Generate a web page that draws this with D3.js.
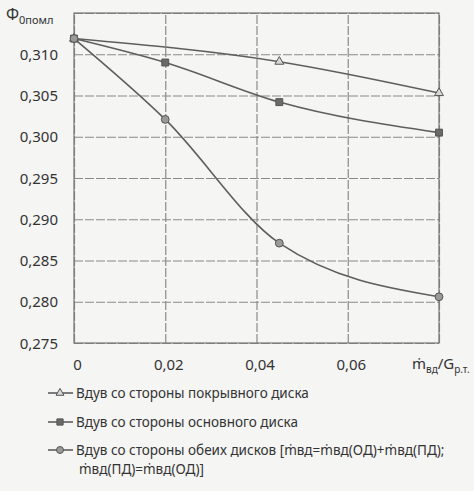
<!DOCTYPE html>
<html>
<head>
<meta charset="utf-8">
<script src="https://cdn.jsdelivr.net/npm/d3@7/dist/d3.min.js"></script>
<style>
  html, body { margin: 0; padding: 0; background: #f5f5f4; }
  svg { display: block; }
  text { font-family: "Noto Sans", "Open Sans", sans-serif; fill: #333; }
</style>
</head>
<body>
<svg id="chart" width="474" height="491"></svg>
<script>
// Relative blow-off mass flow (x) and the resulting flow coefficient (y)
const xTicks = [0, 0.02, 0.04, 0.06];
const yTicks = [0.275, 0.280, 0.285, 0.290, 0.295, 0.300, 0.305, 0.310];

const xShroud = [0, 0.045, 0.08];
const yShroud = [0.3119, 0.3091, 0.3053];

const xHub = [0, 0.02, 0.045, 0.08];
const yHub = [0.3119, 0.3090, 0.3042, 0.3005];

const xBoth = [0, 0.02, 0.045, 0.08];
const yBoth = [0.3119, 0.3021, 0.2871, 0.2806];

const legendLabels = [
  "Вдув со стороны покрывного диска",
  "Вдув со стороны основного диска",
  "Вдув со стороны обеих дисков [ṁвд=ṁвд(ОД)+ṁвд(ПД);"
];
const legendCont = "ṁвд(ПД)=ṁвд(ОД)]";

const svg = d3.select("#chart");
const plotL = 74, plotR = 439, plotT = 13, plotB = 343;

const x = d3.scaleLinear().domain([0, 0.08]).range([plotL, plotR]);
const y = d3.scaleLinear().domain([0.275, 0.315]).range([plotB, plotT]);
const fmt = v => d3.format(v === 0 ? "d" : ".2f")(v).replace(".", ",");
const fmtY = v => d3.format(".3f")(v).replace(".", ",");

const gridColor = "#8a8a8a";

// horizontal grid lines + y tick labels
svg.append("g")
  .attr("transform", `translate(${plotL},0)`)
  .call(d3.axisLeft(y).tickValues(yTicks.concat([0.315])).tickSize(-(plotR - plotL)).tickFormat(fmtY))
  .call(g => g.select(".domain").remove())
  .call(g => g.selectAll(".tick line").attr("stroke", gridColor).attr("stroke-width", 1.2)
    .attr("stroke-dasharray", "9,2"))
  .call(g => g.selectAll(".tick").filter(d => d === 0.315).select("text").remove())
  .call(g => g.selectAll(".tick text").attr("x", -16).attr("dy", "0.34em")
    .style("font-size", "15px").style("font-family", "\"Noto Sans\", sans-serif").attr("fill", "#333"));

// vertical grid lines + x tick labels
svg.append("g")
  .attr("transform", `translate(0,${plotB})`)
  .call(d3.axisBottom(x).tickValues(xTicks.concat([0.08])).tickSize(-(plotB - plotT)).tickFormat(fmt))
  .call(g => g.select(".domain").remove())
  .call(g => g.selectAll(".tick line").attr("stroke", gridColor).attr("stroke-width", 1.2)
    .attr("stroke-dasharray", "9,2"))
  .call(g => g.selectAll(".tick").filter(d => d === 0.08).select("text").remove())
  .call(g => g.selectAll(".tick text").attr("y", 16).attr("dx", 3)
    .style("font-size", "15px").style("font-family", "\"Noto Sans\", sans-serif").attr("fill", "#333"));

// plot frame
svg.append("rect")
  .attr("x", plotL).attr("y", plotT).attr("width", plotR - plotL).attr("height", plotB - plotT)
  .attr("fill", "none").attr("stroke", "#777").attr("stroke-width", 1.2);

// axis titles
const yt = svg.append("text").attr("x", 6).attr("y", 20).style("font-size", "16px");
yt.append("tspan").text("Ф");
yt.append("tspan").attr("dy", 4).style("font-size", "11px").text("0помл");

const xt = svg.append("text").attr("x", 412).attr("y", 369).style("font-size", "15px");
xt.append("tspan").text("ṁ");
xt.append("tspan").attr("dy", 4).style("font-size", "10px").text("вд");
xt.append("tspan").attr("dy", -4).text("/G");
xt.append("tspan").attr("dy", 4).style("font-size", "10px").text("р.т.");

// series, drawn as smoothed lines
const lineColor = "#5e5e5e";
const line = d3.line().x(d => x(d[0])).y(d => y(d[1])).curve(d3.curveMonotoneX);

const series = [
  { xs: xShroud, ys: yShroud, sym: d3.symbolTriangle, size: 34, fill: "#d8d8d8" },
  { xs: xHub, ys: yHub, sym: d3.symbolSquare, size: 48, fill: "#6a6a6a" },
  { xs: xBoth, ys: yBoth, sym: d3.symbolCircle, size: 48, fill: "#9a9a9a" }
];

series.forEach(s => {
  const pts = s.xs.map((v, i) => [v, s.ys[i]]);
  svg.append("path").attr("d", line(pts))
    .attr("fill", "none").attr("stroke", lineColor).attr("stroke-width", 1.6);
  svg.append("g").selectAll("path").data(pts).join("path")
    .attr("transform", d => `translate(${x(d[0])},${y(d[1])})`)
    .attr("d", d3.symbol().type(s.sym).size(s.size))
    .attr("fill", s.fill).attr("stroke", "#555").attr("stroke-width", 1);
});

// legend
const legendY = [393, 422, 450];
legendLabels.forEach((label, i) => {
  const g = svg.append("g");
  g.append("line").attr("x1", 48).attr("x2", 73).attr("y1", legendY[i]).attr("y2", legendY[i])
    .attr("stroke", lineColor).attr("stroke-width", 1.6);
  g.append("path").attr("transform", `translate(60,${legendY[i]})`)
    .attr("d", d3.symbol().type(series[i].sym).size(series[i].size * 0.8))
    .attr("fill", series[i].fill).attr("stroke", "#555").attr("stroke-width", 1);
  g.append("text").attr("x", 76).attr("y", legendY[i]).attr("dy", "0.35em")
    .style("font-size", "13.5px").text(label);
});
svg.append("text").attr("x", 79).attr("y", 469).attr("dy", "0.35em")
  .style("font-size", "13.5px").text(legendCont);
</script>
</body>
</html>
